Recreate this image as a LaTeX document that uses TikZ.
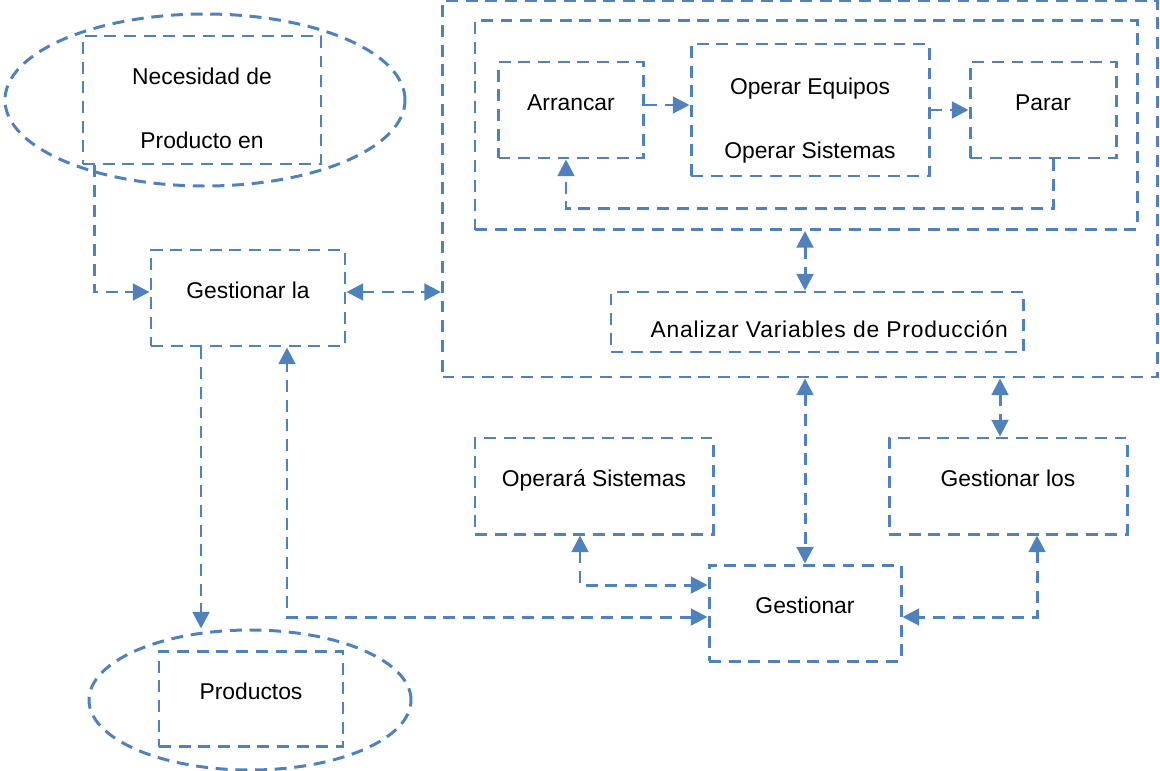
\documentclass[tikz,border=0pt]{standalone}
\usepackage{fontspec}
\setmainfont{Liberation Sans}
\usetikzlibrary{shapes.geometric,arrows.meta}

\newdimen\px
\px=0.02cm

\definecolor{diagblue}{RGB}{79,129,189}

\tikzset{
    dline/.style={draw=diagblue, line width=1.7pt, dash pattern=on 6.8pt off 4.4pt},
    blk/.style={dline, rectangle, inner sep=0pt, align=center,
        font=\fontsize{13}{15.6}\selectfont},
    raised/.style={text height=10pt, text depth=9pt},
    twoline/.style={text height=55pt, text depth=0pt},
    oval/.style={dline, ellipse, inner sep=0pt},
    arr/.style={dline, -{Triangle[length=9.5pt,width=9.5pt]}},
    dbl/.style={dline, {Triangle[length=9.5pt,width=9.5pt]}-{Triangle[length=9.5pt,width=9.5pt]}}
}

\begin{document}
\begin{tikzpicture}[x=1\px, y=-1\px]
    \useasboundingbox (0,0) rectangle (1160,771);
    % left column
    \node (necell) [oval, minimum width=400\px, minimum height=172\px] at (205,100) {};
    \node (necesidad) [blk, twoline, minimum width=238\px, minimum height=128\px] at (202,100) {Necesidad de\\[21pt]Producto en};
    \node (gestla) [blk, raised, minimum width=194\px, minimum height=96\px] at (248,298) {Gestionar la};
    \node (prodell) [oval, minimum width=322\px, minimum height=140\px] at (250,700) {};
    \node (productos) [blk, raised, minimum width=184\px, minimum height=95\px] at (251,699) {Productos};
    % upper block
    \node (outer) [blk, minimum width=715\px, minimum height=376\px] at (800,189) {};
    \node (inner) [blk, minimum width=662\px, minimum height=209\px] at (806,125) {};
    \node (arrancar) [blk, raised, minimum width=145\px, minimum height=96\px] at (571,110) {Arrancar};
    \node (operar) [blk, twoline, minimum width=238\px, minimum height=132\px] at (810,110) {Operar Equipos\\[21pt]Operar Sistemas};
    \node (parar) [blk, raised, minimum width=146\px, minimum height=96\px] at (1043,110) {Parar};
    \node (analizar) [blk, text height=21pt, text depth=3pt, minimum width=412\px, minimum height=60\px] at (817,322)
        {\hspace*{14pt}\addfontfeature{LetterSpace=3.5}Analizar Variables de Producción};
    % lower block
    \node (operara) [blk, raised, minimum width=238\px, minimum height=96\px] at (594,486) {Operará Sistemas};
    \node (gestlos) [blk, raised, minimum width=238\px, minimum height=96\px] at (1008,486) {Gestionar los};
    \node (gestionar) [blk, raised, minimum width=192\px, minimum height=96\px] at (805,613) {Gestionar};

    % connectors
    \draw [arr] ([shift={(13,0)}]necesidad.south west) |- ([shift={(0,-6)}]gestla.west);
    \draw [dbl] ([shift={(0,-6)}]gestla.east) -- ([shift={(0,-6)}]gestla.east -| outer.west);
    \draw [arr] ([shift={(0,-5)}]arrancar.east) -- ([shift={(0,-5)}]arrancar.east -| operar.west);
    \draw [arr] (operar.east) -- (parar.west);
    \draw [arr] ([shift={(10,0)}]parar.south) -- ++(0,49) -| ([shift={(-5,0)}]arrancar.south);
    \draw [dbl] (inner.south -| gestionar.north) -- (gestionar.north |- analizar.north);
    \draw [dbl] (outer.south -| gestionar.north) -- (gestionar.north);
    \draw [dbl] ([shift={(-8,0)}]gestlos.north |- outer.south) -- ([shift={(-8,0)}]gestlos.north);
    \draw [arr] ([shift={(-47,0)}]gestla.south) -- ([shift={(-47,0)}]gestla.south |- prodell.north);
    \draw [dbl] ([shift={(0,4)}]gestionar.west) -| ([shift={(39,0)}]gestla.south);
    \draw [dbl] ([shift={(-14,0)}]operara.south) |- ([shift={(0,-28)}]gestionar.west);
    \draw [dbl] ([shift={(29,0)}]gestlos.south) |- ([shift={(0,4)}]gestionar.east);
\end{tikzpicture}
\end{document}
